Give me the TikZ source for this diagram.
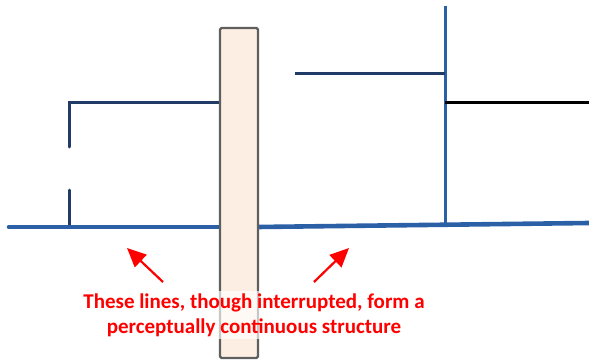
\documentclass[tikz,border=0pt]{standalone}
\usepackage{fontspec}
\setmainfont{Carlito}
\usetikzlibrary{arrows.meta}
\definecolor{lblue}{HTML}{2B5FA6}
\definecolor{navy}{HTML}{1F3B66}
\definecolor{peach}{HTML}{FDEEE3}
\definecolor{bordergray}{HTML}{5F5F5F}
\tikzset{
  thickblue/.style={draw=lblue,line width=4.6pt,line cap=round},
  navyline/.style={draw=navy,line width=3pt,line cap=round},
  blueline/.style={draw=lblue,line width=3pt},
  blackline/.style={draw=black,line width=3pt},
  redarrow/.style={draw=red,line width=2.2pt,-{Triangle[length=19pt,width=17pt]}},
  occluder/.style={draw=bordergray,fill=peach,line width=2.4pt,rounded corners=1.5pt,minimum width=38pt,minimum height=330pt,inner sep=0pt},
  caption/.style={fill=white,fill opacity=0.65,text opacity=1,text=red,font=\bfseries\fontsize{21}{25}\selectfont,align=center,inner sep=2pt}
}
\begin{document}
\begin{tikzpicture}[x=1pt,y=-1pt]
\useasboundingbox (0,0) rectangle (589,362);
% left structure
\coordinate (l0) at (9,227);
\coordinate (l1) at (222,227);
\coordinate (lv0) at (69,102);
\coordinate (lv1) at (69,147);
\coordinate (lv2) at (69,190);
\coordinate (lv3) at (69,227);
\coordinate (lh1) at (221,102);
\draw[navyline] (lv1) -- (lv0) -- (lh1);
\draw[navyline] (lv2) -- (lv3);
\draw[thickblue] (l0) -- (l1);
% right structure
\coordinate (r0) at (257,227);
\coordinate (r1) at (589,223);
\coordinate (rv0) at (445,6);
\coordinate (rv1) at (445,224);
\coordinate (rh0) at (295,73);
\coordinate (rh1) at (445,73);
\coordinate (rk0) at (445,102);
\coordinate (rk1) at (589,102);
\draw[blueline] (rv0) -- (rv1);
\draw[navyline,line cap=butt] (rh0) -- (rh1);
\draw[blackline] (rk0) -- (rk1);
\draw[thickblue,line cap=butt] (r0) -- (r1);
% occluder
\node[occluder] (occ) at (239,193) {};
% caption and arrows
\node[caption] (cap) at (254,315) {These lines, though interrupted, form a\\perceptually continuous structure};
\coordinate (a1t) at (163,282);
\coordinate (a1h) at (127,248);
\coordinate (a2t) at (314,282);
\coordinate (a2h) at (349,248);
\draw[redarrow] (a1t) -- (a1h);
\draw[redarrow] (a2t) -- (a2h);
\end{tikzpicture}
\end{document}
